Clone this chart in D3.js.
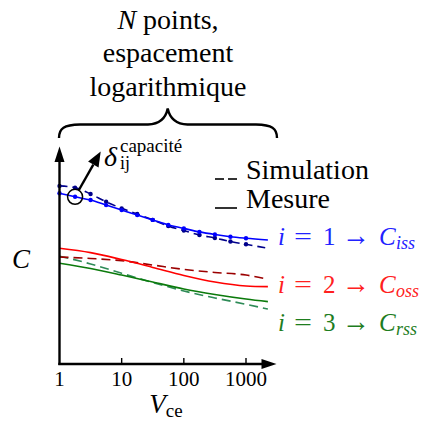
<!DOCTYPE html>
<html>
<head>
<meta charset="utf-8">
<script src="https://cdn.jsdelivr.net/npm/d3@7"></script>
<style>
  html, body { margin: 0; padding: 0; background: #fff; }
</style>
</head>
<body>
<svg id="chart" width="426" height="422"></svg>
<script>
// Voltage grid (log-spaced samples) for the input capacitance, plus curve end
const vFine = [1, 1.78, 3.16, 5.62, 10, 17.8, 31.6, 56.2, 100, 178, 316, 562, 1000, 2250];
// Coarser grid used for output / reverse capacitances
const vCoarse = [1, 3.16, 10, 31.6, 100, 316, 1000, 2250];

// Capacitances (arbitrary units)
const cissMeas = [78.3, 76.7, 75.2, 72.9, 70.6, 68.3, 66.1, 63.8, 62.2, 60.6, 59.4, 58.4, 57.7, 56.9];
const cissSim  = [81.7, 80.9, 78.0, 74.4, 71.4, 68.8, 66.1, 63.3, 61.2, 59.2, 57.8, 56.2, 54.9, 53.1];
const cossMeas = [53.1, 51.1, 47.9, 44.3, 40.6, 37.6, 35.8, 35.5];
const cossSim  = [49.1, 48.4, 47.4, 45.4, 43.4, 42.0, 40.8, 38.9];
const crssMeas = [46.2, 43.8, 40.8, 37.6, 34.4, 31.9, 29.8, 28.6];
const crssSim  = [49.5, 45.9, 41.6, 37.4, 33.5, 30.3, 27.4, 25.2];

// Number of measured / simulated sample points marked with dots
const nDots = 13;

const xTicks = [1, 10, 100, 1000];
const xTickLabels = ["1", "10", "100", "1000"];

const FONT = '"Liberation Serif", "Times New Roman", serif';
const svg = d3.select("#chart").style("font-family", FONT);
// every text node gets the serif face explicitly
const txt = sel => sel.append("text").style("font-family", FONT);

const x = d3.scaleLog().domain([1, 1000]).range([59.5, 246]);
const y = d3.scaleLinear().domain([0, 100]).range([364, 146]);

const line = d3.line()
  .x(d => x(d[0]))
  .y(d => y(d[1]))
  .curve(d3.curveMonotoneX);

const series = [
  { v: vCoarse, c: crssSim,  color: "#2e8b57", dash: "9,5", w: 1.6 },
  { v: vCoarse, c: crssMeas, color: "#0b7a0b", dash: null,  w: 1.6 },
  { v: vCoarse, c: cossSim,  color: "#9b0000", dash: "9,5", w: 1.6 },
  { v: vCoarse, c: cossMeas, color: "#ff0000", dash: null,  w: 1.6 },
  { v: vFine,   c: cissSim,  color: "#00008b", dash: "8,5", w: 1.6, dots: true },
  { v: vFine,   c: cissMeas, color: "#0000ff", dash: null,  w: 1.6, dots: true },
];

series.forEach(s => {
  const pts = s.v.map((v, i) => [v, s.c[i]]);
  svg.append("path")
    .attr("d", line(pts))
    .attr("fill", "none")
    .attr("stroke", s.color)
    .attr("stroke-width", s.w)
    .attr("stroke-dasharray", s.dash);
  if (s.dots) {
    svg.selectAll(null)
      .data(pts.slice(0, nDots))
      .enter().append("circle")
      .attr("cx", d => x(d[0]))
      .attr("cy", d => y(d[1]))
      .attr("r", 2.2)
      .attr("fill", s.color);
  }
});

// Axes drawn as arrows
const x0 = x(1), y0 = y(0);
svg.append("line")
  .attr("x1", x0).attr("y1", y0 + 1).attr("x2", x0).attr("y2", 158)
  .attr("stroke", "#000").attr("stroke-width", 2.4);
svg.append("path")
  .attr("d", `M${x0},146.5 L${x0 - 5},162 L${x0 + 5},162 Z`)
  .attr("fill", "#000");
svg.append("line")
  .attr("x1", x0 - 1.2).attr("y1", y0).attr("x2", 266).attr("y2", y0)
  .attr("stroke", "#000").attr("stroke-width", 2.4);
svg.append("path")
  .attr("d", `M276.5,${y0} L261.5,${y0 - 5} L261.5,${y0 + 5} Z`)
  .attr("fill", "#000");

// Ticks and labels on the voltage axis
svg.selectAll(null)
  .data(xTicks.slice(1))
  .enter().append("line")
  .attr("x1", d => x(d)).attr("x2", d => x(d))
  .attr("y1", y0).attr("y2", y0 - 6)
  .attr("stroke", "#000").attr("stroke-width", 1.4);

svg.selectAll(null)
  .data(xTicks)
  .enter().append("text")
  .style("font-family", FONT)
  .attr("x", d => x(d))
  .attr("y", 386)
  .attr("text-anchor", "middle")
  .attr("font-size", 21)
  .text((d, i) => xTickLabels[i]);

// Axis titles
const xt = txt(svg).attr("x", 166).attr("y", 413).attr("text-anchor", "middle");
xt.append("tspan").attr("font-style", "italic").attr("font-size", 27).text("V");
xt.append("tspan").attr("font-size", 19).attr("dy", 4).text("ce");

txt(svg)
  .attr("x", 12).attr("y", 268)
  .attr("font-size", 27).attr("font-style", "italic")
  .text("C");

// Header above the brace
const header = txt(svg).attr("text-anchor", "middle").attr("font-size", 28);
const l1 = header.append("tspan").attr("x", 168).attr("y", 29);
l1.append("tspan").attr("font-style", "italic").text("N");
l1.append("tspan").text(" points,");
header.append("tspan").attr("x", 168).attr("y", 62).text("espacement");
header.append("tspan").attr("x", 168).attr("y", 96).text("logarithmique");

// Curly brace spanning the voltage range
svg.append("path")
  .attr("d", "M59,138 C59,128 64,125 80,124.5 L148,124.5 C161,124 166,117 167.7,108.5 " +
             "C169.5,117 174.5,124 187.5,124.5 L256,124.5 C272,125 277,128 277,138")
  .attr("fill", "none")
  .attr("stroke", "#000")
  .attr("stroke-width", 2.4);

// Legend
svg.append("line").attr("x1", 215).attr("x2", 224).attr("y1", 179).attr("y2", 179)
  .attr("stroke", "#000").attr("stroke-width", 1.6);
svg.append("line").attr("x1", 228).attr("x2", 237).attr("y1", 179).attr("y2", 179)
  .attr("stroke", "#000").attr("stroke-width", 1.6);
txt(svg).attr("x", 246).attr("y", 179).attr("font-size", 28).text("Simulation");
svg.append("line").attr("x1", 215).attr("x2", 237).attr("y1", 208).attr("y2", 208)
  .attr("stroke", "#000").attr("stroke-width", 1.6);
txt(svg).attr("x", 246).attr("y", 208).attr("font-size", 28).text("Mesure");

// Series labels: i = k -> C_xss
const seriesLabels = [
  { k: "1", sub: "iss", color: "#2222ff", base: 245 },
  { k: "2", sub: "oss", color: "#ff2020", base: 293 },
  { k: "3", sub: "rss", color: "#1e7d1e", base: 331 },
];
seriesLabels.forEach(s => {
  const t = txt(svg).attr("y", s.base).attr("fill", s.color).attr("font-size", 25);
  t.append("tspan").attr("x", 278).attr("font-style", "italic").text("i");
  t.append("tspan").attr("x", 294).attr("textLength", 18).attr("lengthAdjust", "spacingAndGlyphs").text("=");
  t.append("tspan").attr("x", 323).text(s.k);
  t.append("tspan").attr("x", 342).attr("font-size", 30)
    .attr("textLength", 28).attr("lengthAdjust", "spacingAndGlyphs").text("→");
  t.append("tspan").attr("x", 379).attr("font-style", "italic").attr("font-size", 25).text("C");
  t.append("tspan").attr("x", 396).attr("dy", 4).attr("font-size", 18)
    .attr("font-style", "italic").text(s.sub);
});

// Highlighted sample with error annotation
const hx = x(vFine[1]), hy = y(cissMeas[1]);
svg.append("circle")
  .attr("cx", hx).attr("cy", hy).attr("r", 7.5)
  .attr("fill", "none").attr("stroke", "#000").attr("stroke-width", 1.5);

const tip = [100.7, 151.5];
const dx = tip[0] - hx, dy = tip[1] - hy, len = Math.hypot(dx, dy);
const ux = dx / len, uy = dy / len;
const start = [hx + ux * 7.5, hy + uy * 7.5];
const headLen = 15, headW = 6;
const base = [tip[0] - ux * headLen, tip[1] - uy * headLen];
svg.append("line")
  .attr("x1", start[0]).attr("y1", start[1]).attr("x2", base[0]).attr("y2", base[1])
  .attr("stroke", "#000").attr("stroke-width", 2.4);
svg.append("path")
  .attr("d", `M${tip[0]},${tip[1]} L${base[0] - uy * headW},${base[1] + ux * headW} ` +
             `L${base[0] + uy * headW},${base[1] - ux * headW} Z`)
  .attr("fill", "#000");

const dl = txt(svg);
dl.append("tspan").attr("x", 104).attr("y", 166).attr("font-size", 28).attr("font-style", "italic").text("δ");
dl.append("tspan").attr("x", 120).attr("y", 152).attr("font-size", 19).text("capacité");
dl.append("tspan").attr("x", 120).attr("y", 169).attr("font-size", 18).text("ij");
</script>
</body>
</html>
